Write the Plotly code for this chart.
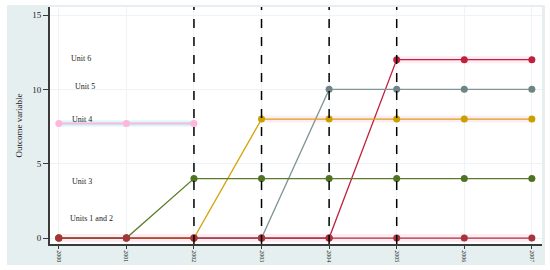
import plotly.graph_objects as go

years = [2000, 2001, 2002, 2003, 2004, 2005, 2006, 2007]
units_1_2 = [0, 0, 0, 0, 0, 0, 0, 0]
unit_3 = [0, 0, 4, 4, 4, 4, 4, 4]
unit_4 = [0, 0, 0, 8, 8, 8, 8, 8]
unit_5 = [0, 0, 0, 0, 10, 10, 10, 10]
unit_6 = [0, 0, 0, 0, 0, 12, 12, 12]
stray_years = [2000, 2001, 2002]
stray_values = [7.7, 7.7, 7.7]
treatment_years = [2002, 2003, 2004, 2005]
y_ticks = [0, 5, 10, 15]

labels = ["Unit 6", "Unit 5", "Unit 4", "Unit 3", "Units 1 and 2"]
label_x = [2000.15, 2000.21, 2000.17, 2000.17, 2000.14]
label_y = [12.05, 10.2, 7.95, 3.8, 1.3]

FONT = "Liberation Serif"
fig = go.Figure()

glow = "rgba(255,190,220,0.3)"
fig.add_trace(go.Scatter(x=stray_years, y=stray_values, mode="lines",
                         line=dict(color="rgba(170,240,240,0.5)", width=6),
                         hoverinfo="skip", showlegend=False))
fig.add_trace(go.Scatter(x=stray_years, y=stray_values, mode="lines+markers",
                         line=dict(color="#ffb6dc", width=2),
                         marker=dict(color="#ffb6dc", size=7),
                         hoverinfo="skip", showlegend=False))
fig.add_trace(go.Scatter(x=years, y=units_1_2, mode="lines",
                         line=dict(color=glow, width=8), hoverinfo="skip", showlegend=False))
fig.add_trace(go.Scatter(x=years[3:], y=unit_4[3:], mode="lines",
                         line=dict(color=glow, width=7), hoverinfo="skip", showlegend=False))
fig.add_trace(go.Scatter(x=years[5:], y=unit_6[5:], mode="lines",
                         line=dict(color=glow, width=7), hoverinfo="skip", showlegend=False))

series = [
    (unit_6, "#c0203c", "#c0203c"),
    (unit_5, "#7f9696", "#6f8585"),
    (unit_4, "#d6a40c", "#c9a000"),
    (unit_3, "#5a7d2a", "#4f7322"),
    (units_1_2, "#a8333a", "#a8333a"),
]
for vals, lc, mc in series:
    fig.add_trace(go.Scatter(x=years, y=vals, mode="lines+markers",
                             line=dict(color=lc, width=1.3),
                             marker=dict(color=mc, size=7),
                             showlegend=False))

for ty in treatment_years:
    fig.add_vline(x=ty, line=dict(color="black", width=1.5, dash="dash"), layer="above")

for t, x, y in zip(labels, label_x, label_y):
    fig.add_annotation(x=x, y=y, text=t, showarrow=False, xanchor="left",
                       yanchor="middle", font=dict(family=FONT, size=8, color="#222222"))

# outer bluish panel and white plot region
fig.add_shape(type="rect", xref="paper", yref="paper", x0=-0.0874, x1=1.006,
              y0=-0.0886, y1=1.0084, fillcolor="#e6eff0", line=dict(width=0), layer="below")
fig.add_shape(type="rect", xref="paper", yref="paper", x0=0, x1=1,
              y0=0, y1=1, fillcolor="white", line=dict(width=0), layer="below")

fig.update_layout(
    width=550, height=270,
    margin=dict(l=50, r=8, t=7, b=26),
    paper_bgcolor="white", plot_bgcolor="white",
    font=dict(family=FONT, size=9, color="#222222"),
)
fig.update_xaxes(range=[1999.87, 2007.15], tickvals=years, ticktext=[str(y) for y in years],
                 tickangle=90, tickfont=dict(size=6), showgrid=True, gridcolor="#eef3f5",
                 gridwidth=1, zeroline=False, showline=True, linecolor="#3a3a3a", linewidth=2,
                 ticks="outside", ticklen=3, tickcolor="#3a3a3a", automargin=False)
fig.update_yaxes(range=[-0.4, 15.54], tickvals=y_ticks, showgrid=True, gridcolor="#eef3f5",
                 zeroline=False, showline=True, linecolor="#3a3a3a", linewidth=2,
                 ticks="outside", ticklen=5, tickcolor="#3a3a3a", tickfont=dict(size=9),
                 title=dict(text="Outcome variable", font=dict(size=9), standoff=8),
                 automargin=False)

fig.write_html("out.html", config={"displayModeBar": False},
               post_script="document.body.style.margin='0';document.body.style.overflow='hidden';")
